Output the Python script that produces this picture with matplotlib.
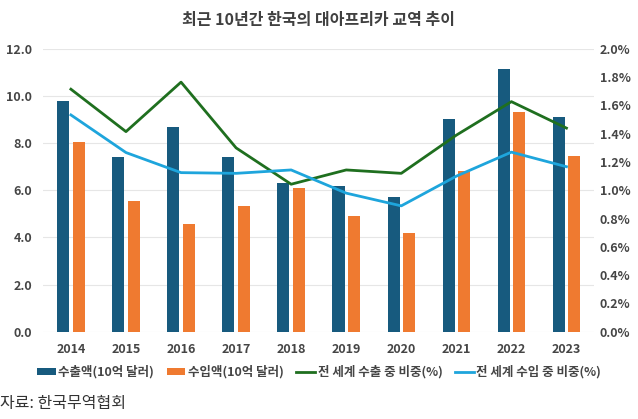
import matplotlib
matplotlib.use("Agg")
import matplotlib.pyplot as plt
import numpy as np

plt.rcParams['font.family'] = ['Noto Sans CJK KR', 'DejaVu Sans']

years = ['2014', '2015', '2016', '2017', '2018', '2019', '2020', '2021', '2022', '2023']
exports = [9.8, 7.43, 8.7, 7.4, 6.3, 6.18, 5.73, 9.01, 11.14, 9.1]
imports = [8.04, 5.53, 4.56, 5.35, 6.11, 4.92, 4.18, 6.82, 9.32, 7.47]
export_share = [1.715, 1.415, 1.765, 1.30, 1.043, 1.144, 1.12, 1.39, 1.627, 1.44]
import_share = [1.533, 1.267, 1.125, 1.12, 1.144, 0.98, 0.89, 1.10, 1.27, 1.167]

title = '최근 10년간 한국의 대아프리카 교역 추이'
labels = ['수출액(10억 달러)', '수입액(10억 달러)', '전 세계 수출 중 비중(%)', '전 세계 수입 중 비중(%)']
source = '자료: 한국무역협회'

c_exp = '#175a7e'
c_imp = '#ef7a30'
c_green = '#1f6f1f'
c_blue = '#1ea5dc'
tick_color = '#454545'

fig = plt.figure(figsize=(6.38, 4.19), dpi=100)
ax = fig.add_axes([0.068, 0.2083, 0.863, 0.675])
ax2 = ax.twinx()

x = np.arange(len(years))
w = 0.22
ax.bar(x - 0.14, exports, w, color=c_exp, zorder=3, label=labels[0])
ax.bar(x + 0.14, imports, w, color=c_imp, zorder=3, label=labels[1])
ax2.plot(x, export_share, color=c_green, lw=2, label=labels[2], zorder=4)
ax2.plot(x, import_share, color=c_blue, lw=2, label=labels[3], zorder=4)

ax.set_xlim(-0.5, 9.5)
ax.set_ylim(0, 12)
ax2.set_ylim(0, 2.0)
ax.set_yticks(np.arange(0, 12.1, 2))
ax.set_yticklabels([f'{v:.1f}' for v in np.arange(0, 12.1, 2)])
ax2.set_yticks(np.arange(0, 2.01, 0.2))
ax2.set_yticklabels([f'{v:.1f}%' for v in np.arange(0, 2.01, 0.2)])
ax.set_xticks(x)
ax.set_xticklabels(years)

ax.grid(axis='y', color='#e6e6e6', lw=0.8, zorder=0)
for a in (ax, ax2):
    for s in a.spines.values():
        s.set_visible(False)
    a.tick_params(length=0, labelsize=9, colors=tick_color)
    for t in a.get_xticklabels() + a.get_yticklabels():
        t.set_fontweight('bold')
ax.tick_params(axis='y', pad=8)
ax2.tick_params(axis='y', pad=4)
ax.tick_params(axis='x', pad=8)

fig.text(0.5, 0.952, title, ha='center', va='center', fontsize=11.5, fontweight='bold', color='#404040')

h1, l1 = ax.get_legend_handles_labels()
h2, l2 = ax2.get_legend_handles_labels()
leg = fig.legend(h1 + h2, l1 + l2, loc='center', bbox_to_anchor=(0.5, 0.112), ncol=4, frameon=False,
                 fontsize=9, handlelength=1.5, handletextpad=0.2, columnspacing=1.0,
                 handleheight=0.5)
for t in leg.get_texts():
    t.set_color(tick_color)
    t.set_fontweight('bold')

fig.text(0.0, 0.036, source, ha='left', va='center', fontsize=11.5, color='#333333')

fig.savefig('out.png', dpi=100)
